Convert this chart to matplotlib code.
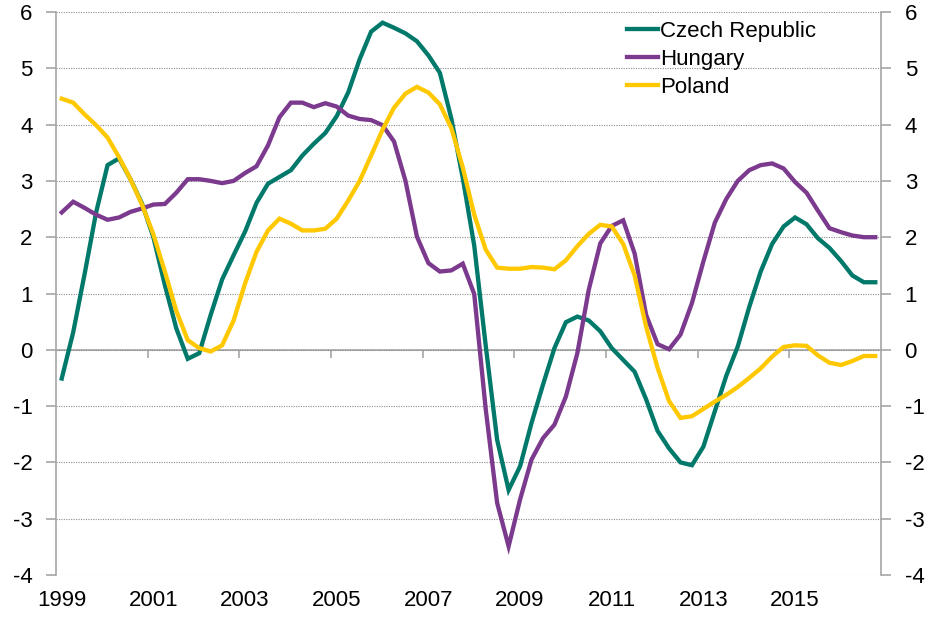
import matplotlib
matplotlib.use("Agg")
import matplotlib.pyplot as plt
import numpy as np

plt.rcParams['font.family'] = ['Liberation Sans', 'DejaVu Sans']
plt.rcParams['axes.unicode_minus'] = False

# quarterly values, 1999Q1 .. 2016Q4
czech = [-0.51, 0.31, 1.35, 2.44, 3.28, 3.40, 3.03, 2.60, 2.00, 1.15, 0.38, -0.16,
         -0.06, 0.62, 1.25, 1.68, 2.10, 2.61, 2.95, 3.07, 3.19, 3.45, 3.66, 3.85,
         4.15, 4.57, 5.16, 5.65, 5.81, 5.72, 5.62, 5.48, 5.23, 4.92, 4.11, 3.05,
         1.85, 0.08, -1.60, -2.49, -2.07, -1.30, -0.62, 0.03, 0.49, 0.59, 0.52, 0.33,
         0.03, -0.18, -0.39, -0.88, -1.44, -1.75, -2.00, -2.05, -1.72, -1.09, -0.46, 0.06,
         0.76, 1.39, 1.88, 2.19, 2.35, 2.23, 1.98, 1.81, 1.58, 1.32, 1.20, 1.20]
hungary = [2.44, 2.63, 2.52, 2.40, 2.31, 2.35, 2.45, 2.51, 2.58, 2.59, 2.79, 3.03,
           3.03, 3.00, 2.96, 3.00, 3.14, 3.26, 3.63, 4.13, 4.39, 4.39, 4.31, 4.38,
           4.32, 4.16, 4.10, 4.08, 3.99, 3.70, 3.00, 2.01, 1.54, 1.39, 1.41, 1.53,
           0.99, -1.05, -2.72, -3.49, -2.66, -1.95, -1.57, -1.33, -0.83, -0.06, 1.07, 1.89,
           2.20, 2.30, 1.71, 0.62, 0.10, 0.01, 0.27, 0.83, 1.57, 2.26, 2.68, 3.00,
           3.19, 3.28, 3.31, 3.22, 2.98, 2.79, 2.47, 2.16, 2.09, 2.03, 2.00, 2.00]
poland = [4.46, 4.39, 4.18, 3.99, 3.77, 3.42, 3.03, 2.58, 2.05, 1.39, 0.69, 0.17,
          0.03, -0.03, 0.08, 0.52, 1.18, 1.74, 2.12, 2.33, 2.24, 2.12, 2.12, 2.15,
          2.33, 2.65, 3.00, 3.45, 3.91, 4.30, 4.55, 4.67, 4.57, 4.36, 3.94, 3.24,
          2.40, 1.78, 1.46, 1.44, 1.44, 1.47, 1.46, 1.43, 1.59, 1.84, 2.06, 2.22,
          2.19, 1.88, 1.32, 0.41, -0.32, -0.91, -1.21, -1.18, -1.05, -0.92, -0.80, -0.66,
          -0.50, -0.33, -0.12, 0.05, 0.08, 0.07, -0.10, -0.23, -0.27, -0.20, -0.11, -0.11]
year_labels = ['1999', '2001', '2003', '2005', '2007', '2009', '2011', '2013', '2015']

teal = '#00796B'
purple = '#7B3A8D'
yellow = '#FFC800'
axis_grey = '#A6A6A6'

fig = plt.figure(figsize=(9.29, 6.17), dpi=100)
ax = fig.add_axes([56/929, 1 - 575/617, (881 - 56)/929, (575 - 12)/617])

x = np.arange(len(czech))
ax.plot(x, czech, color=teal, lw=3.1, label='Czech Republic', solid_joinstyle='miter')
ax.plot(x, hungary, color=purple, lw=3.1, label='Hungary', solid_joinstyle='miter')
ax.plot(x, poland, color=yellow, lw=3.1, label='Poland', solid_joinstyle='miter')

ax.set_xlim(-0.5, len(czech) - 0.5)
ax.set_ylim(-4, 6)
ax.set_yticks(np.arange(-4, 7, 1))
ax.yaxis.grid(True, color='#8C8C8C', lw=0.8, linestyle=(0, (1, 1.2)))
ax.set_axisbelow(True)

for s in ['top', 'bottom']:
    ax.spines[s].set_visible(False)
for s in ['left', 'right']:
    ax.spines[s].set_color(axis_grey)
    ax.spines[s].set_linewidth(1.2)

ax.yaxis.set_ticks_position('both')
ax.tick_params(axis='y', which='both', direction='out', length=7, width=1.2,
               color=axis_grey, labelsize=16, labelright=True, pad=10)

# year labels at the bottom, on the first quarter of every other year
ax.set_xticks(x[::8][:len(year_labels)])
ax.set_xticklabels(year_labels)
ax.tick_params(axis='x', length=0, labelsize=16, pad=11)

# zero line with tick marks between years
zero_ax = ax.secondary_xaxis((0 - (-4)) / 10)
zero_ax.set_xticks(np.arange(7.5, len(czech) - 1, 8))
zero_ax.tick_params(direction='out', length=6, width=1.2, color=axis_grey,
                    labelbottom=False)
zero_ax.spines['bottom'].set_color(axis_grey)
zero_ax.spines['bottom'].set_linewidth(1.2)

leg = ax.legend(loc='upper left', bbox_to_anchor=(627/929, 1 - 21/617),
                bbox_transform=fig.transFigure, frameon=False, fontsize=16,
                handlelength=1.4, handletextpad=0.1, borderpad=0,
                borderaxespad=0, labelspacing=0.32)

fig.savefig('out.png', dpi=100)
